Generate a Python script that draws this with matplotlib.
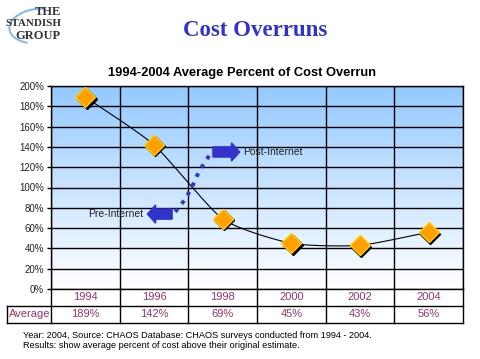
import numpy as np
import matplotlib
matplotlib.use('Agg')
import matplotlib.pyplot as plt
import matplotlib.transforms as mtransforms
from matplotlib.patches import Arc, FancyArrow

years = ['1994', '1996', '1998', '2000', '2002', '2004']
overrun = [189, 142, 69, 45, 43, 56]
avg_labels = ['189%', '142%', '69%', '45%', '43%', '56%']
yticks = [0, 20, 40, 60, 80, 100, 120, 140, 160, 180, 200]

plt.rcParams['font.family'] = ['Liberation Sans', 'DejaVu Sans']

fig = plt.figure(figsize=(4.81, 3.59), dpi=100)
W, H = 481, 359
ax = fig.add_axes([51 / W, 1 - 289 / H, 412 / W, 203 / H])

x = np.arange(len(years))
ax.set_xlim(-0.5, len(years) - 0.5)
ax.set_ylim(0, 200)

# gradient background (light blue -> white)
grad = np.linspace(0, 1, 256).reshape(-1, 1)
top = np.array([0.58, 0.79, 1.0])
bot = np.array([1.0, 1.0, 1.0])
img = top * (1 - grad[..., None]) + bot * grad[..., None]
img = img.reshape(256, 1, 3)
ax.imshow(img, extent=[-0.5, len(years) - 0.5, 0, 200], aspect='auto', zorder=0)

# grid
for yv in yticks:
    ax.axhline(yv, color='black', lw=1, zorder=1)
for b in np.arange(-0.5, len(years), 1.0):
    ax.axvline(b, color='black', lw=1, zorder=1)

# smoothed line (cardinal spline, low tension)
def smooth(xs, ys, n=30, k=0.3):
    px = np.concatenate([[xs[0]], xs, [xs[-1]]])
    py = np.concatenate([[ys[0]], ys, [ys[-1]]])
    ox, oy = [], []
    t = np.linspace(0, 1, n)
    h00 = 2 * t ** 3 - 3 * t ** 2 + 1
    h10 = t ** 3 - 2 * t ** 2 + t
    h01 = -2 * t ** 3 + 3 * t ** 2
    h11 = t ** 3 - t ** 2
    for i in range(1, len(px) - 2):
        for arr, out in ((px, ox), (py, oy)):
            m1 = k * (arr[i + 1] - arr[i - 1])
            m2 = k * (arr[i + 2] - arr[i])
            out.extend(h00 * arr[i] + h10 * m1 + h01 * arr[i + 1] + h11 * m2)
    return np.array(ox), np.array(oy)

sx, sy = smooth(x.astype(float), np.array(overrun, dtype=float))
ax.plot(sx, sy, color='black', lw=0.8, zorder=3)

# diamonds with shadow
shadow = mtransforms.offset_copy(ax.transData, fig=fig, x=1.0, y=-1.0, units='points')
ax.plot(x, overrun, 'D', color='black', ms=10, transform=shadow, zorder=4)
ax.plot(x, overrun, 'D', color='#FFA000', mec='#FFCC00', mew=1, ms=10, zorder=5)

# dotted transition line
dx = [1.31, 1.45, 1.55, 1.63, 1.72, 1.81]
dy = [76, 88, 100, 112, 123, 132]
ax.plot(dx, dy, ':', color='#3333CC', lw=2.8, zorder=6)

# arrows
ax.add_patch(FancyArrow(0.393, 0.675, 0.045, 0, width=0.05, head_width=0.09, head_length=0.02,
                        color='#3333CC', transform=ax.transAxes, zorder=7))
ax.text(0.466, 0.675, 'Post-Internet', transform=ax.transAxes, fontsize=7.5, va='center',
        color='#222222', zorder=7)
ax.add_patch(FancyArrow(0.294, 0.369, -0.04, 0, width=0.05, head_width=0.09, head_length=0.02,
                        color='#3333CC', transform=ax.transAxes, zorder=7))
ax.text(0.225, 0.369, 'Pre-Internet', transform=ax.transAxes, fontsize=7.5, va='center', ha='right',
        color='#222222', zorder=7)

ax.set_yticks(yticks)
ax.set_yticklabels([f'{v}%' for v in yticks], fontsize=7, color='#222222')
ax.set_xticks([])
ax.tick_params(axis='y', length=3, width=1, pad=2)
for s in ax.spines.values():
    s.set_linewidth(1)

# data table under the chart
tc = '#993366'
tr = ax.get_xaxis_transform()
for i in range(len(years)):
    ax.text(x[i], -0.04, years[i], transform=tr, ha='center', va='center', fontsize=8, color=tc, clip_on=False)
    ax.text(x[i], -0.125, avg_labels[i], transform=tr, ha='center', va='center', fontsize=8, color=tc, clip_on=False)
fig.text(9 / W, 1 - 314 / H, 'Average', fontsize=8, color=tc, va='center')

def hline(y, x0, x1):
    fig.add_artist(plt.Line2D([x0 / W, x1 / W], [1 - y / H, 1 - y / H], color='black', lw=1))

def vline(xp, y0, y1):
    fig.add_artist(plt.Line2D([xp / W, xp / W], [1 - y0 / H, 1 - y1 / H], color='black', lw=1))

hline(305.5, 7, 463)
hline(322.5, 7, 463)
vline(7, 305.5, 322.5)
for b in [51, 119.7, 188.3, 257, 325.7, 394.3, 463]:
    vline(b, 289, 322.5)

# titles
fig.text(255 / W, 1 - 30 / H, 'Cost Overruns', fontsize=16.5, fontweight='bold', color='#3333CC',
         family='Liberation Serif', ha='center', va='center')
fig.text(242 / W, 1 - 73 / H, '1994-2004 Average Percent of Cost Overrun', fontsize=9.3, fontweight='bold',
         ha='center', va='center')

# footnote
fig.text(23 / W, 1 - 335 / H, 'Year: 2004, Source: CHAOS Database: CHAOS surveys conducted from 1994 - 2004.',
         fontsize=6.6, va='center')
fig.text(23 / W, 1 - 346 / H, 'Results: show average percent of cost above their original estimate.',
         fontsize=6.6, va='center')

# logo
fig.add_artist(Arc((38 / W, 1 - 26 / H), 58 / W, 34 / H, angle=15, theta1=60, theta2=230,
                   color='#88BBEE', lw=1.5, transform=fig.transFigure))
logo = dict(family='Liberation Serif', fontweight='bold', color='#333333', va='center', ha='right')
fig.text(61 / W, 1 - 12 / H, 'THE', fontsize=9, **logo)
fig.text(61 / W, 1 - 24 / H, 'STANDISH', fontsize=8, **logo)
fig.text(61 / W, 1 - 36 / H, 'GROUP', fontsize=9, **logo)

fig.savefig('out.png', dpi=100)
